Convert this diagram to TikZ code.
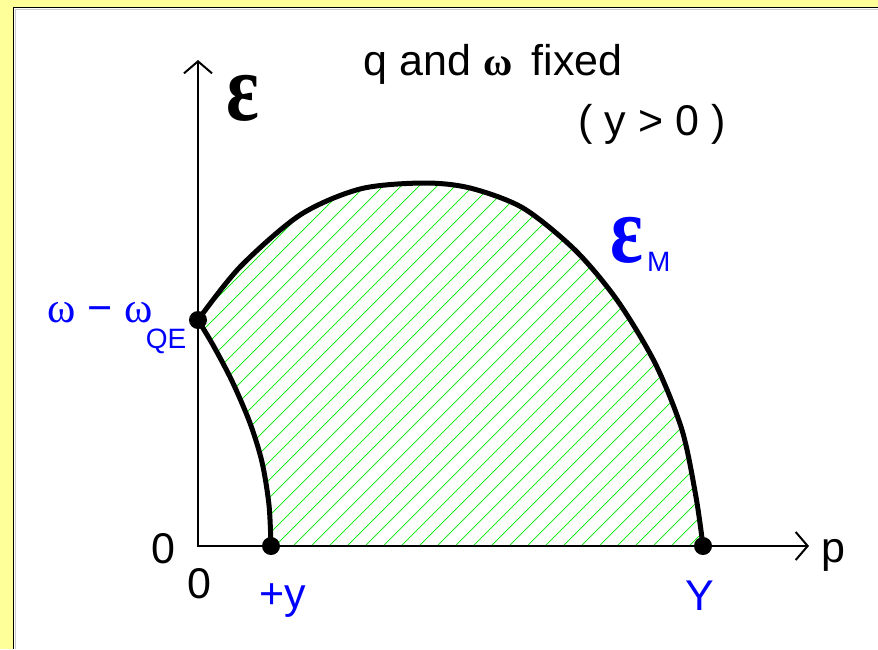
\documentclass[tikz,border=0pt]{standalone}
\usepackage{fontspec}
\setmainfont{Liberation Sans}
\newfontfamily\lserif{Liberation Serif}
\usetikzlibrary{arrows.meta}
\definecolor{paleyellow}{RGB}{255,255,153}
\definecolor{hatchgreen}{RGB}{0,235,0}
\definecolor{labelblue}{RGB}{0,0,255}
\begin{document}
\begin{tikzpicture}[x=1pt,y=-1pt,
  axis/.style={line width=2pt,{Straight Barb[length=12pt,width=28pt,line width=2pt]}-{Straight Barb[length=12pt,width=28pt,line width=2pt]}},
  dot/.style={circle,fill=black,inner sep=0pt,minimum size=18pt},
  bound/.style={line width=5pt,line join=round,line cap=round},
  lbl/.style={inner sep=0pt,font=\fontsize{43}{50}\selectfont},
  blbl/.style={lbl,text=labelblue},
  bigeps/.style={inner sep=0pt,anchor=base,font=\lserif\bfseries\fontsize{96}{100}\selectfont},
  hatch/.style={hatchgreen,line width=0.7pt}]
\useasboundingbox (0,0) rectangle (878,649);
% frame
\fill[paleyellow] (0,0) rectangle (878,649);
\fill[white] (14,8) rectangle (878,649);
\draw[gray!40,line width=1pt] (15.5,649) -- (15.5,9.5) -- (878,9.5);
\draw[line width=1.5pt] (13.5,649) -- (13.5,7.5) -- (878,7.5);
% hatched region
\begin{scope}
\clip plot[smooth] coordinates {(271,546) (269,505) (262,462) (250,423) (232,381) (213,345) (198,320)}
  -- plot[smooth] coordinates {(198,320) (240,267) (300,215) (360,189) (423,183) (470,188) (523,208) (575,250) (617,300) (655,363) (682,430) (696,497) (703,546)}
  -- cycle;
\foreach \k in {-28,...,25} \draw[hatch] (293+18*\k,546) -- ++(460,-460);
\end{scope}
% axes
\coordinate (O) at (198,546);
\coordinate (ytip) at (198,60);
\coordinate (xtip) at (809,546);
\draw[axis] (ytip) -- (O) -- (xtip);
% boundary curves
\draw[bound] plot[smooth] coordinates {(271,546) (269,505) (262,462) (250,423) (232,381) (213,345) (198,320)};
\draw[bound] plot[smooth] coordinates {(198,320) (240,267) (300,215) (360,189) (423,183) (470,188) (523,208) (575,250) (617,300) (655,363) (682,430) (696,497) (703,546)};
% points
\node[dot] (A) at (198,320) {};
\node[dot] (B) at (271,546) {};
\node[dot] (C) at (703,546) {};
% labels
\node[lbl,anchor=base] (title) at (493,75) {q and {\lserif\bfseries\fontsize{40}{44}\selectfont ω}\, fixed};
\node[lbl,anchor=base] (cond) at (652,135) {( y > 0 )};
\node[bigeps] (eps) at (243,120) {\scalebox{0.8}[1]{ε}};
\node[bigeps,text=labelblue] (epsM) at (627,262) {\scalebox{0.8}[1]{ε}};
\node[inner sep=0pt,anchor=base west,text=labelblue,font=\fontsize{28}{32}\selectfont] (M) at (647,271) {M};
\node[blbl,anchor=base west] (wqe) at (47,322) {{\lserif ω} − {\lserif ω}\kern-7pt\raisebox{-26pt}{\fontsize{28}{32}\selectfont QE}};
\node[lbl,anchor=base] (zl) at (163,563) {0};
\node[lbl,anchor=base] (zb) at (199,598) {0};
\node[blbl,anchor=base] (py) at (283,608) {+y};
\node[blbl,anchor=base] (bY) at (700,610) {Y};
\node[lbl,anchor=base] (p) at (833,562) {p};
\end{tikzpicture}
\end{document}
